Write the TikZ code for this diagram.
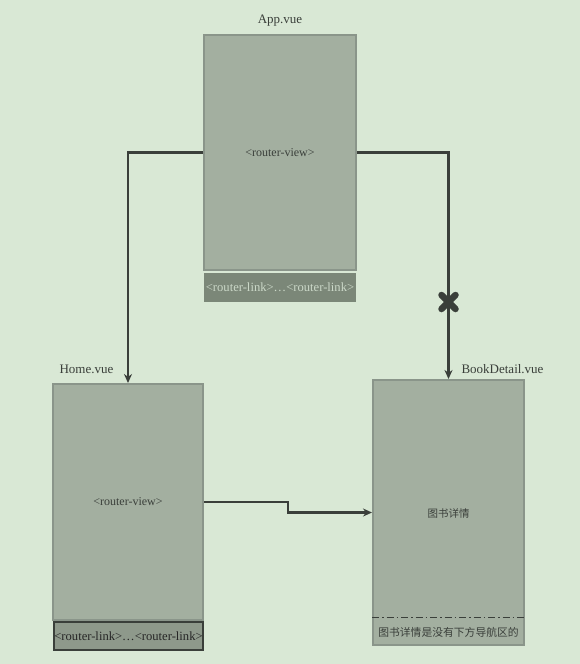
\documentclass[tikz,border=0pt]{standalone}
\usepackage{fontspec}
\setmainfont{Liberation Serif}
\newfontfamily\cjk{Noto Sans CJK SC}
\usetikzlibrary{arrows.meta,positioning}

\definecolor{bggreen}{HTML}{D9E8D5}
\definecolor{panefill}{HTML}{A3AFA0}
\definecolor{paneline}{HTML}{8A958A}
\definecolor{linkdark}{HTML}{7B8778}
\definecolor{linkmid}{HTML}{8E998B}
\definecolor{inkgray}{HTML}{3A3F3A}

\tikzset{
  pane/.style={draw=paneline, line width=2pt, fill=panefill, inner sep=0pt},
  linkbar/.style={inner sep=0pt, font=\fontsize{12.6}{14}\selectfont},
  caption/.style={font=\fontsize{12.4}{14}\selectfont, text=inkgray},
  wire/.style={draw=inkgray, line width=2.4pt, ->, >={Stealth[length=9pt,width=8pt]}}
}

\begin{document}
\begin{tikzpicture}[x=1pt, y=-1pt, font=\fontsize{12}{14}\selectfont]
    \fill[bggreen] (0,0) rectangle (580,664);
    \useasboundingbox (0,0) rectangle (580,664);
    % App.vue
    \node[pane, minimum width=152pt, minimum height=235pt] (app) at (280,152.5) {};
    \node[caption, font=\fontsize{12}{14}\selectfont] at (app.center) {<router-view>};
    \node[caption, font=\fontsize{13}{14}\selectfont, above=4pt of app] (appname) {App.vue};
    \node[linkbar, fill=linkdark, text=bggreen!85!gray, minimum width=152pt, minimum height=29pt] (applink) at (280,287.5) {<router-link>\dots<router-link>};
    % Home.vue
    \node[pane, minimum width=150pt, minimum height=236pt] (home) at (128,502) {};
    \node[caption, font=\fontsize{12}{14}\selectfont] at (home.center) {<router-view>};
    \node[caption, font=\fontsize{13}{14}\selectfont, anchor=south west] (homename) at (56,377) {Home.vue};
    \node[linkbar, draw=inkgray, line width=1.2pt, fill=linkmid, text=black!85, minimum width=149pt, minimum height=28pt] (homelink) at (128.5,636) {<router-link>\dots<router-link>};
    % BookDetail.vue
    \node[pane, minimum width=151pt, minimum height=265pt] (book) at (448.5,512.5) {};
    \node[caption, font=\cjk\fontsize{10.5}{12}\selectfont] (booktext) at (448.5,513) {图书详情};
    \node[caption, font=\fontsize{13}{14}\selectfont, anchor=south west] (bookname) at (458,377) {BookDetail.vue};
    \node[caption, font=\cjk\fontsize{10.8}{12}\selectfont] (booknote) at (448.5,632) {图书详情是没有下方导航区的};
    \coordinate (noteL) at (book.west |- 0,617);
    \coordinate (noteR) at (book.east |- 0,617);
    \draw[inkgray, line width=1pt, dash pattern=on 7pt off 3pt on 1.5pt off 3pt] (noteL) -- (noteR);
    % routes
    \draw[wire] (app.west) -| (home.north);
    \draw[wire] (app.east) -| (book.north);
    \coordinate (bend) at (288,502);
    \draw[wire] (home.east) -- (bend) -- (bend |- book.west) -- (book.west);
    % blocked route
    \coordinate (stop) at (book.north |- 0,302);
    \draw[inkgray, line width=6.5pt, line cap=round] ([shift={(-7,-7)}]stop) -- ([shift={(7,7)}]stop);
    \draw[inkgray, line width=6.5pt, line cap=round] ([shift={(-7,7)}]stop) -- ([shift={(7,-7)}]stop);
\end{tikzpicture}
\end{document}
